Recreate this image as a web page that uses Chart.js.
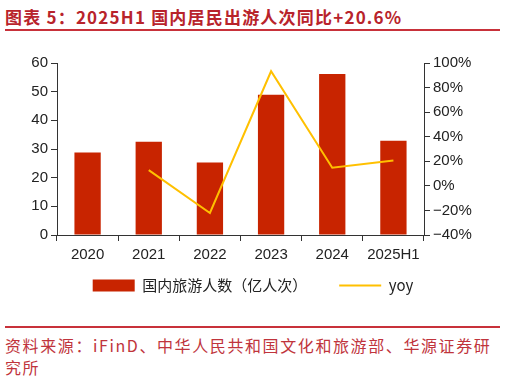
<!DOCTYPE html>
<html>
<head>
<meta charset="utf-8">
<script src="https://cdn.jsdelivr.net/npm/chart.js@4/dist/chart.umd.min.js"></script>
<style>
  html, body { margin: 0; padding: 0; background: #fff; }
  body { width: 506px; height: 383px; position: relative; overflow: hidden; }
  #titre {
    position: absolute; left: 5px; top: 4px;
    font: bold 17px "Noto Sans CJK SC", sans-serif; color: #b8232b;
    white-space: nowrap; letter-spacing: 1.2px;
  }
  .trait { position: absolute; left: 5px; width: 495px; height: 2px; background: #c8313a; }
  #source {
    position: absolute; left: 5px; top: 334px; width: 500px;
    font: 16px "Noto Sans CJK SC", sans-serif; color: #c0343c;
    letter-spacing: 1.6px; line-height: 22px;
  }
  #zone { position: absolute; left: 0; top: 40px; width: 506px; height: 282px; }
</style>
</head>
<body>
<div id="titre">图表 5：2025H1 国内居民出游人次同比+20.6%</div>
<div class="trait" style="top:29px"></div>
<div id="zone"><canvas id="graphique"></canvas></div>
<div class="trait" style="top:326px"></div>
<div id="source">资料来源：iFinD、中华人民共和国文化和旅游部、华源证券研<br>究所</div>
<script>
// Données
const annees = ['2020', '2021', '2022', '2023', '2024', '2025H1'];
const voyages = [28.8, 32.5, 25.3, 48.9, 56.2, 32.9];   // 亿人次
const yoy = [null, 12.8, -22.1, 93.3, 14.8, 20.6];      // %

const police = { family: '"Liberation Sans", Arial, sans-serif', size: 15 };

// remonte la légende sous l'axe des x (sinon trop basse à cause du padding)
const remonterLegende = {
  id: 'remonterLegende',
  afterLayout(chart) {
    const l = chart.legend;
    if (!l) return;
    l.top -= 19;
    l.bottom -= 19;
  }
};

new Chart(document.getElementById('graphique'), {
  data: {
    labels: annees,
    datasets: [
      {
        type: 'line', label: 'yoy', data: yoy, yAxisID: 'y2',
        borderColor: '#ffc000', backgroundColor: '#ffc000',
        borderWidth: 2, pointRadius: 0, tension: 0, order: 0
      },
      {
        type: 'bar', label: '国内旅游人数（亿人次）', data: voyages, yAxisID: 'y',
        backgroundColor: '#c82400', borderWidth: 0,
        barPercentage: 0.43, categoryPercentage: 1, order: 1
      }
    ]
  },
  plugins: [remonterLegende],
  options: {
    responsive: true, maintainAspectRatio: false, animation: false,
    layout: { padding: { top: 23, left: 0, right: 0, bottom: 0 } },
    plugins: {
      tooltip: { enabled: false },
      legend: {
        position: 'bottom', reverse: true,
        labels: {
          usePointStyle: true, pointStyleWidth: 42, boxHeight: 12, boxWidth: 42,
          padding: 32, color: '#222',
          font: { family: '"Noto Sans CJK SC", sans-serif', size: 15 },
          generateLabels(chart) {
            const items = Chart.defaults.plugins.legend.labels.generateLabels(chart);
            items.forEach(it => {
              const ds = chart.data.datasets[it.datasetIndex];
              it.pointStyle = ds.type === 'line' ? 'line' : 'rect';
              it.lineWidth = ds.type === 'line' ? 2 : 0;
              it.strokeStyle = ds.borderColor || ds.backgroundColor;
            });
            return items;
          }
        }
      }
    },
    scales: {
      x: {
        grid: { drawOnChartArea: false, color: '#333', tickLength: 6, offset: true },
        border: { color: '#333' },
        ticks: { color: '#222', font: police, padding: 5 },
        afterFit(s) { s.height = 30; }
      },
      y: {
        position: 'left', min: 0, max: 60,
        ticks: { stepSize: 10, color: '#222', font: police, padding: 3 },
        grid: { drawOnChartArea: false, color: '#333', tickLength: 6 },
        border: { color: '#333' },
        afterFit(s) { s.width = 57; }
      },
      y2: {
        position: 'right', min: -40, max: 100,
        ticks: { stepSize: 20, color: '#222', font: police, padding: 3,
                 callback: v => (v < 0 ? '\u2212' + Math.abs(v) : v) + '%' },
        grid: { drawOnChartArea: false, color: '#333', tickLength: 6 },
        border: { color: '#333' },
        afterFit(s) { s.width = 82; }
      }
    }
  }
});
</script>
</body>
</html>
